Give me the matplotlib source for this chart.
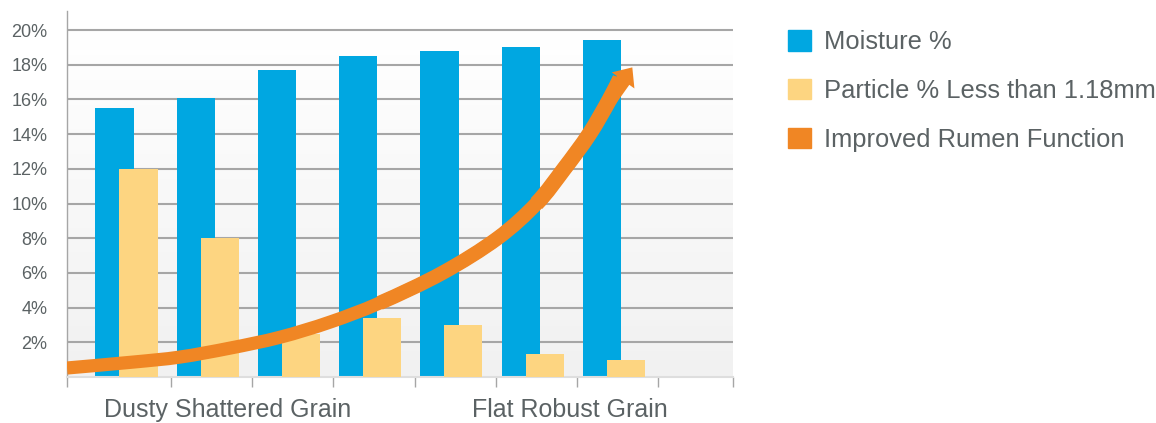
import numpy as np
import matplotlib
matplotlib.use("Agg")
import matplotlib.pyplot as plt
from matplotlib.patches import Patch, PathPatch
from matplotlib.path import Path

# Chart data
slots = np.arange(7)
moisture = [15.5, 16.1, 17.7, 18.5, 18.8, 19.0, 19.4]
particle = [12.0, 8.0, 2.5, 3.4, 3.0, 1.3, 1.0]

# "Improved Rumen Function" trend arrow, centreline in slot / percent units
arrow_x = [-0.28, 0.53, 1.11, 1.73, 2.34, 2.96, 3.57, 4.34, 5.02, 5.50, 5.84, 6.15, 6.40, 6.53]
arrow_y = [0.52, 0.86, 1.15, 1.67, 2.29, 3.17, 4.27, 6.0, 8.0, 10.0, 12.0, 14.0, 16.0, 17.2]
arrow_tip = (6.68, 17.85)

group_labels = ["Dusty Shattered Grain", "Flat Robust Grain"]
group_pos = [1.70, 5.91]
y_ticks = list(range(2, 22, 2))
legend_labels = ["Moisture %", "Particle % Less than 1.18mm", "Improved Rumen Function"]

BLUE = "#00a7e1"
YELLOW = "#fdd581"
ORANGE = "#f08624"
GRID = "#a6a6a6"
TEXT = "#5b6264"

plt.rcParams['font.family'] = ['Liberation Sans', 'DejaVu Sans']


def smooth_path(xs, ys):
    """Catmull-Rom style bezier path through the given points."""
    p = np.column_stack([xs, ys])
    ext = np.vstack([p[0], p, p[-1]])
    verts = [p[0]]
    codes = [Path.MOVETO]
    for i in range(1, len(ext) - 2):
        c1 = ext[i] + (ext[i + 1] - ext[i - 1]) / 6
        c2 = ext[i + 1] - (ext[i + 2] - ext[i]) / 6
        verts += [c1, c2, ext[i + 1]]
        codes += [Path.CURVE4] * 3
    return np.array(verts), codes


def sub_path(verts, codes, start):
    """Tail of the bezier path beginning at point index `start`."""
    v = verts[3 * start:]
    c = [Path.MOVETO] + list(codes[3 * start + 1:])
    return Path(v, c)


def draw_chart():
    fig = plt.figure(figsize=(11.56, 4.23), dpi=100)
    ax = fig.add_axes([0.0580, 0.1087, 0.5761, 0.8653])
    ax.set_xlim(-0.28, 7.92)
    ax.set_ylim(0, 21.1)

    # soft vertical gradient behind the bars
    grad = np.linspace(0.945, 1.0, 256)[:, None, None] * np.ones((1, 1, 3))
    ax.imshow(grad, extent=(-0.28, 7.92, 0, 20), origin='lower',
              aspect='auto', zorder=0, interpolation='bilinear')

    for v in y_ticks:
        ax.axhline(v, color=GRID, lw=1.5, zorder=1)

    ax.bar(slots + 0.07, moisture, width=0.47, align='edge', color=BLUE, zorder=2)
    ax.bar(slots + 0.365, particle, width=0.47, align='edge', color=YELLOW, zorder=3)

    # trend arrow: smooth shaft that thickens a little towards the head
    verts, codes = smooth_path(arrow_x, arrow_y)
    for start, lw in [(0, 9.5), (6, 10.4), (9, 11.3)]:
        ax.add_patch(PathPatch(sub_path(verts, codes, start), fill=False,
                               edgecolor=ORANGE, lw=lw, capstyle='butt',
                               joinstyle='round', zorder=4))
    ax.annotate('', xy=arrow_tip, xytext=(arrow_x[-2], arrow_y[-2]),
                arrowprops=dict(arrowstyle='simple,head_length=11.5,head_width=20,tail_width=11',
                                mutation_scale=1, color=ORANGE, lw=0,
                                shrinkA=0, shrinkB=0),
                zorder=5)

    # axes styling
    ax.set_yticks(y_ticks)
    ax.set_yticklabels([f"{v}%" for v in y_ticks])
    ax.tick_params(axis='y', length=0, pad=14, labelsize=13, labelcolor=TEXT)
    ax.set_xticks([-0.28, 1, 2, 3, 4, 5, 6, 7, 7.92])
    ax.set_xticklabels([])
    ax.tick_params(axis='x', which='major', length=7, width=1, color=GRID, direction='out')
    ax.set_xticks(group_pos, minor=True)
    ax.set_xticklabels(group_labels, minor=True)
    ax.tick_params(axis='x', which='minor', length=0, pad=15, labelsize=18, labelcolor=TEXT)

    for side in ['top', 'right']:
        ax.spines[side].set_visible(False)
    ax.spines['left'].set_color(GRID)
    ax.spines['left'].set_linewidth(1)
    ax.spines['bottom'].set_color('#dedede')
    ax.spines['bottom'].set_linewidth(1.5)

    handles = [Patch(color=BLUE), Patch(color=YELLOW), Patch(color=ORANGE)]
    fig.legend(handles, legend_labels, loc='upper left',
               bbox_to_anchor=(0.682, 0.928), frameon=False, fontsize=18.4,
               labelcolor=TEXT, handlelength=0.88, handleheight=0.84,
               handletextpad=0.5, labelspacing=0.96, borderpad=0, borderaxespad=0)

    fig.savefig("out.png", dpi=100)
    plt.close(fig)


if __name__ == "__main__":
    draw_chart()
